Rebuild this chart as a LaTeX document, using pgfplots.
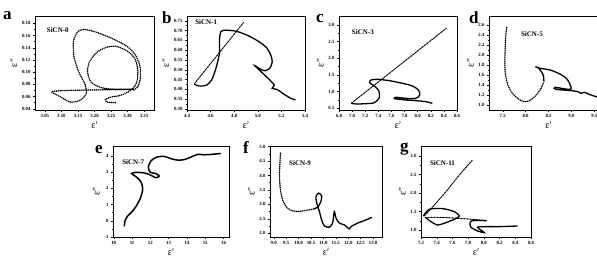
\documentclass[border=0pt]{standalone}
\usepackage{fontspec}
\setmainfont{Liberation Serif}
\usepackage{pgfplots}
\pgfplotsset{compat=1.18}
\tikzset{tag/.style={font=\fontsize{7}{7}\selectfont\bfseries, anchor=west}}
\pgfplotsset{
 panel/.style={scale only axis, axis line style={line width=0.6pt},
   tick pos=left, tick align=outside, major tick length=2pt, minor tick length=1.2pt,
   minor tick num=1, every tick/.style={line width=0.4pt,black},
   ticklabel style={font=\fontsize{4.8}{5}\selectfont\bfseries},
   /pgf/number format/assume math mode=true,
   xlabel={ε′}, ylabel={ε″},
   label style={font=\fontsize{10}{10}\selectfont},
   xlabel style={yshift=3pt}, ylabel style={yshift=-2pt},
   xticklabel style={yshift=1pt}, yticklabel style={xshift=1pt}},
 curve/.style={black, line width=1.3pt, smooth, tension=0.45, mark=none},
 beads/.style={black, line width=1.7pt, smooth, tension=0.45, mark=none, line cap=round, dash pattern=on 0pt off 1.9pt},
 thindots/.style={black, line width=0.6pt, mark=none, postaction={draw, line width=1.3pt, line cap=round, dash pattern=on 0pt off 3pt}}
}
\begin{document}
\begin{tikzpicture}
% ---------- a ----------
\begin{axis}[panel, at={(35pt,149pt)}, anchor=south west, width=119pt, height=94pt,
  xmin=3.02, xmax=3.38, ymin=0.038, ymax=0.192,
  xtick={3.05,3.10,...,3.36}, ytick={0.04,0.06,...,0.181},
  xticklabel style={/pgf/number format/.cd,fixed,fixed zerofill,precision=2},
  yticklabel style={/pgf/number format/.cd,fixed,fixed zerofill,precision=2}]
\addplot[beads] coordinates {(3.263,0.050) (3.238,0.051) (3.233,0.055) (3.248,0.059) (3.279,0.062) (3.309,0.070) (3.327,0.082) (3.331,0.101) (3.324,0.120) (3.304,0.133) (3.268,0.142) (3.238,0.141) (3.208,0.133) (3.185,0.117) (3.179,0.101) (3.189,0.084) (3.218,0.075) (3.258,0.072) (3.319,0.072) (3.218,0.071) (3.116,0.070) (3.070,0.068) (3.096,0.060) (3.126,0.051) (3.157,0.054) (3.175,0.065) (3.172,0.079) (3.152,0.101) (3.138,0.125) (3.136,0.150) (3.149,0.166) (3.169,0.170) (3.208,0.165) (3.258,0.154) (3.299,0.142) (3.324,0.128) (3.338,0.109) (3.338,0.087) (3.329,0.075) (3.317,0.070)};
\node[tag] at (rel axis cs:0.07,0.85) {SiCN-0};
\end{axis}
% ---------- b ----------
\begin{axis}[panel, at={(187pt,149pt)}, anchor=south west, width=118pt, height=94pt,
  xmin=4.4, xmax=5.4, ymin=0.295, ymax=0.774,
  xtick={4.4,4.6,...,5.41}, ytick={0.30,0.35,...,0.751},
  xticklabel style={/pgf/number format/.cd,fixed,fixed zerofill,precision=1},
  yticklabel style={/pgf/number format/.cd,fixed,fixed zerofill,precision=2}]
\addplot[thindots] coordinates {(4.878,0.740) (4.46,0.427)};
\addplot[curve] coordinates {(4.46,0.427) (4.504,0.417) (4.564,0.421) (4.609,0.448) (4.645,0.507) (4.675,0.584) (4.675,0.651) (4.687,0.694) (4.728,0.702) (4.818,0.696) (4.907,0.677) (4.997,0.648) (5.072,0.614) (5.11,0.575) (5.122,0.541) (5.101,0.507) (5.057,0.495) (5.012,0.507) (4.973,0.522) (5.042,0.482) (5.101,0.448) (5.14,0.422) (5.122,0.405) (5.161,0.400) (5.221,0.376) (5.281,0.354) (5.319,0.346)};
\node[tag] at (rel axis cs:0.04,0.93) {SiCN-1};
\end{axis}
% ---------- c ----------
\begin{axis}[panel, at={(339pt,149pt)}, anchor=south west, width=118pt, height=94pt,
  xmin=6.8, xmax=8.6, ymin=0.45, ymax=3.27,
  xtick={6.8,7.0,...,8.61}, ytick={0.5,1.0,...,3.01},
  xticklabel style={/pgf/number format/.cd,fixed,fixed zerofill,precision=1},
  yticklabel style={/pgf/number format/.cd,fixed,fixed zerofill,precision=1}]
\addplot[thindots] coordinates {(8.436,2.90) (6.987,0.65)};
\addplot[curve] coordinates {(6.987,0.65) (7.063,0.63) (7.214,0.64) (7.34,0.67) (7.416,0.83) (7.406,1.03) (7.34,1.17) (7.265,1.27) (7.29,1.35) (7.39,1.37) (7.568,1.33) (7.77,1.25) (7.921,1.17) (8.012,1.05) (8.032,0.90) (7.972,0.80) (7.82,0.80) (7.669,0.83) (7.644,0.79) (7.82,0.75) (7.972,0.73) (8.123,0.70) (8.224,0.65)};
\node[tag] at (rel axis cs:0.08,0.83) {SiCN-3};
\end{axis}
% ---------- d ----------
\begin{axis}[panel, at={(489pt,149pt)}, anchor=south west, width=119pt, height=94pt,
  xmin=7.2, xmax=9.8, ymin=0.9, ymax=2.78,
  xtick={7.5,8.0,...,9.51}, ytick={1.0,1.2,...,2.61},
  xticklabel style={/pgf/number format/.cd,fixed,fixed zerofill,precision=1},
  yticklabel style={/pgf/number format/.cd,fixed,fixed zerofill,precision=1}]
\addplot[beads] coordinates {(7.587,2.55) (7.565,2.367) (7.55,2.033) (7.55,1.70) (7.60,1.433) (7.71,1.233) (7.855,1.113) (7.96,1.067) (8.07,1.08) (8.20,1.167) (8.326,1.313) (8.40,1.467)};
\addplot[curve] coordinates {(8.40,1.467) (8.384,1.60) (8.29,1.733) (8.21,1.767) (8.32,1.733) (8.536,1.70) (8.75,1.62) (8.89,1.533) (8.96,1.433) (8.98,1.313) (8.643,1.353) (8.664,1.313) (9.0,1.287) (9.14,1.267) (9.21,1.233) (9.286,1.253) (9.39,1.213) (9.536,1.167) (9.65,1.13)};
\node[tag] at (rel axis cs:0.24,0.81) {SiCN-5};
\end{axis}
% ---------- e ----------
\begin{axis}[panel, at={(113pt,22pt)}, anchor=south west, width=116pt, height=91pt,
  xmin=9.96, xmax=16.3, ymin=-1, ymax=4.6,
  xtick={10,11,...,16}, ytick={-1,0,...,4}]
\addplot[curve, line width=1.5pt] coordinates {(10.58,-0.35) (10.62,0.0) (10.76,0.29) (10.98,0.53) (11.22,0.88) (11.45,1.37) (11.58,1.92) (11.49,2.39) (11.22,2.71) (10.98,2.90) (11.22,2.98) (11.67,2.94) (11.95,2.84) (12.31,2.65) (12.49,2.75) (12.31,2.90) (12.0,2.98) (11.89,3.29) (12.04,3.69) (12.36,3.92) (12.76,3.96) (13.13,3.82) (13.49,3.73) (13.85,3.76) (14.22,3.92) (14.58,4.08) (14.95,4.06) (15.31,4.08) (15.85,4.14)};
\node[tag] at (rel axis cs:0.05,0.82) {SiCN-7};
\end{axis}
% ---------- f ----------
\begin{axis}[panel, at={(270pt,22pt)}, anchor=south west, width=112pt, height=91pt,
  xmin=8.85, xmax=13.36, ymin=1.87, ymax=5.02,
  xtick={9.0,9.5,...,13.01}, ytick={2.0,2.5,...,5.01},
  xticklabel style={/pgf/number format/.cd,fixed,fixed zerofill,precision=1},
  yticklabel style={/pgf/number format/.cd,fixed,fixed zerofill,precision=1}]
\addplot[beads] coordinates {(9.27,4.77) (9.25,4.42) (9.23,3.96) (9.27,3.50) (9.36,3.15) (9.50,2.92) (9.70,2.79) (9.97,2.75) (10.30,2.79) (10.57,2.83)};
\addplot[curve] coordinates {(10.57,2.83) (10.77,2.90) (10.90,3.10) (10.93,3.29) (10.81,3.39) (10.70,3.27) (10.74,3.02) (10.84,2.75) (10.93,2.46) (11.04,2.25) (11.24,2.21) (11.37,2.35) (11.44,2.75) (11.51,2.52) (11.64,2.35) (11.84,2.29) (12.04,2.15) (12.11,2.23) (12.38,2.35) (12.71,2.46) (12.95,2.55)};
\node[tag] at (rel axis cs:0.14,0.81) {SiCN-9};
\end{axis}
% ---------- g ----------
\begin{axis}[panel, at={(421pt,22pt)}, anchor=south west, width=110pt, height=91pt,
  xmin=7.2, xmax=8.6, ymin=0.81, ymax=3.27,
  xtick={7.2,7.4,...,8.61}, ytick={1.0,1.5,...,3.01},
  xticklabel style={/pgf/number format/.cd,fixed,fixed zerofill,precision=1},
  yticklabel style={/pgf/number format/.cd,fixed,fixed zerofill,precision=1}]
\addplot[thindots, smooth, tension=0.4] coordinates {(7.849,2.874) (7.688,2.486) (7.518,2.036) (7.37,1.676) (7.255,1.405) (7.23,1.378)};
\addplot[curve] coordinates {(7.23,1.378) (7.306,1.559) (7.476,1.577) (7.624,1.495) (7.688,1.378) (7.624,1.288) (7.518,1.198) (7.412,1.135) (7.327,1.225) (7.255,1.342)};
\addplot[thindots] coordinates {(7.255,1.342) (7.433,1.342) (7.688,1.315) (7.90,1.28) (8.036,1.252)};
\addplot[curve] coordinates {(8.036,1.252) (7.85,1.25) (7.824,1.18) (7.836,1.072) (7.909,0.982) (8.006,0.928) (7.92,1.072) (8.027,1.09) (8.197,1.09) (8.43,1.108)};
\node[tag] at (rel axis cs:0.05,0.81) {SiCN-11};
\end{axis}
% ---------- panel letters ----------
\begin{scope}[every node/.style={font=\fontsize{17}{17}\selectfont\bfseries, anchor=base west, inner sep=0pt}]
\node at (3pt,239pt) {a};
\node at (162pt,235pt) {b};
\node at (316pt,236pt) {c};
\node at (469pt,235pt) {d};
\node at (95pt,105pt) {e};
\node at (243pt,105pt) {f};
\node at (400pt,107pt) {g};
\end{scope}
\pgfresetboundingbox
\useasboundingbox (0pt,0pt) rectangle (597pt,259pt);
\end{tikzpicture}
\end{document}
